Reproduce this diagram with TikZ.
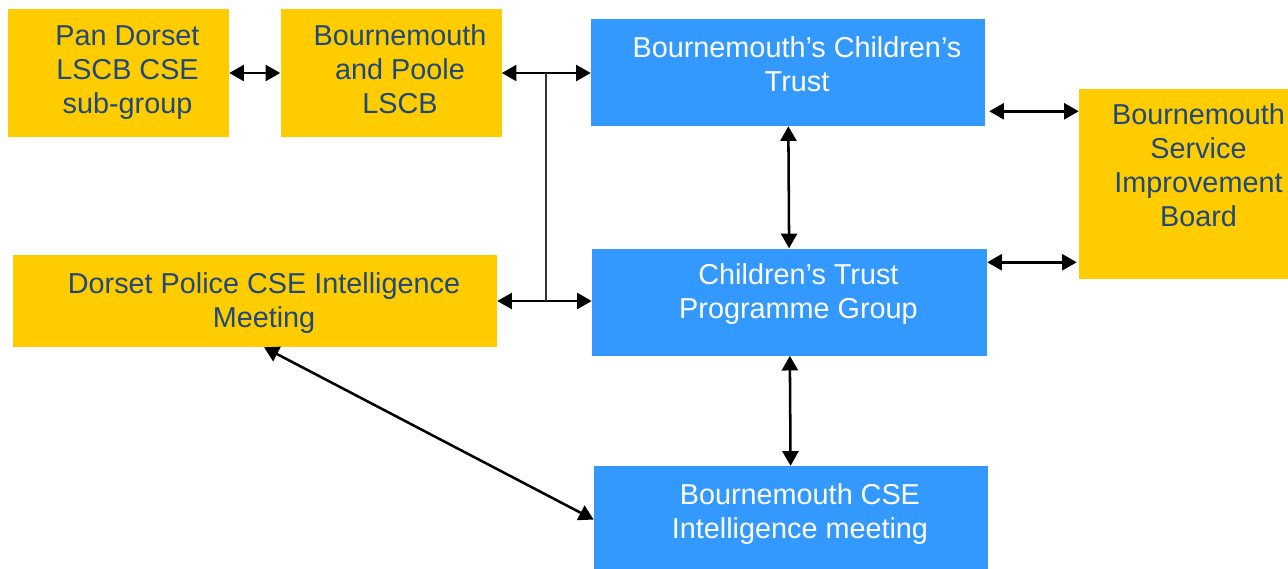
\documentclass[tikz,border=0pt]{standalone}
\usepackage{fontspec}
\setsansfont{Liberation Sans}
\usetikzlibrary{positioning}
\usetikzlibrary{arrows.meta}
\definecolor{boxyellow}{HTML}{FFCC00}
\definecolor{boxblue}{HTML}{3399FF}
\definecolor{textblue}{HTML}{1F497D}
\begin{document}
\begin{tikzpicture}[
    x=0.75pt, y=-0.75pt,
    ybox/.style={fill=boxyellow, inner sep=0},
    bbox/.style={fill=boxblue, inner sep=0},
    ytext/.style={text=textblue, align=center, font=\sffamily\fontsize{21.6pt}{25.5pt}\selectfont,
        text height=15pt, text depth=5pt, inner sep=0, xshift=6.75pt},
    btext/.style={ytext, text=white},
    dedge/.style={<->, >={Triangle[length=11pt,width=12pt]}, line width=1.9pt, draw=black},
    tline/.style={line width=1.4pt, draw=black!80}
]
\useasboundingbox (0,0) rectangle (1288,568);

% LSCB side
\node[ybox, minimum width=165.75pt, minimum height=96pt,
    label={[ytext, yshift=-25pt]center:{Pan Dorset\\LSCB CSE\\sub-group}}] (pan) at (118.5,73) {};
\node[ybox, minimum width=165.75pt, minimum height=96pt, right=38.25pt of pan,
    label={[ytext, yshift=-25pt]center:{Bournemouth\\and Poole\\LSCB}}] (lscb) {};
\node[ybox, minimum width=363pt, minimum height=69pt,
    label={[ytext, yshift=-14.5pt]center:{Dorset Police CSE Intelligence\\Meeting}}] (police) at (255,301) {};

% Children's Trust side
\node[bbox, minimum width=295.5pt, minimum height=80.25pt,
    label={[btext, yshift=-8.9pt]center:{Bournemouth’s Children’s\\Trust}}] (trust) at (788,72.5) {};
\node[bbox, minimum width=296.25pt, minimum height=80.25pt, below=91.5pt of trust, xshift=1.1pt,
    label={[btext, yshift=-7.35pt]center:{Children’s Trust\\Programme Group}}] (prog) {};
\node[bbox, minimum width=295.5pt, minimum height=80.25pt, below=82.5pt of prog, xshift=1.1pt,
    label={[btext, yshift=-8.9pt]center:{Bournemouth CSE\\Intelligence meeting}}] (cse) {};
\node[ybox, minimum width=165.75pt, minimum height=142.5pt,
    label={[ytext, yshift=-27.2pt]center:{Bournemouth\\Service\\Improvement\\Board}}] (board) at (1189.5,184) {};

% links
\draw[dedge] (pan) -- (lscb);
\draw[dedge] (lscb.east) -- (lscb.east -| trust.west);
\draw[dedge] (police.east) -- (police.east -| prog.west);
\path (lscb.east) -- (lscb.east -| trust.west) coordinate[pos=0.5] (j1);
\draw[tline] (j1) -- (j1 |- police.east);
\draw[dedge] (trust) -- (prog);
\draw[dedge] (prog) -- (cse);
\draw[dedge] ([xshift=6.75pt]police.south) -- (cse.west);

% Service Improvement Board
\path ([xshift=3pt, yshift=11.25pt]trust.south east) coordinate (t1);
\path ([yshift=-10.5pt]prog.north east) coordinate (p1);
\draw[dedge] (t1) -- (t1 -| board.west);
\draw[dedge] (p1) -- ([xshift=-1.5pt]p1 -| board.west);

\end{tikzpicture}
\end{document}
